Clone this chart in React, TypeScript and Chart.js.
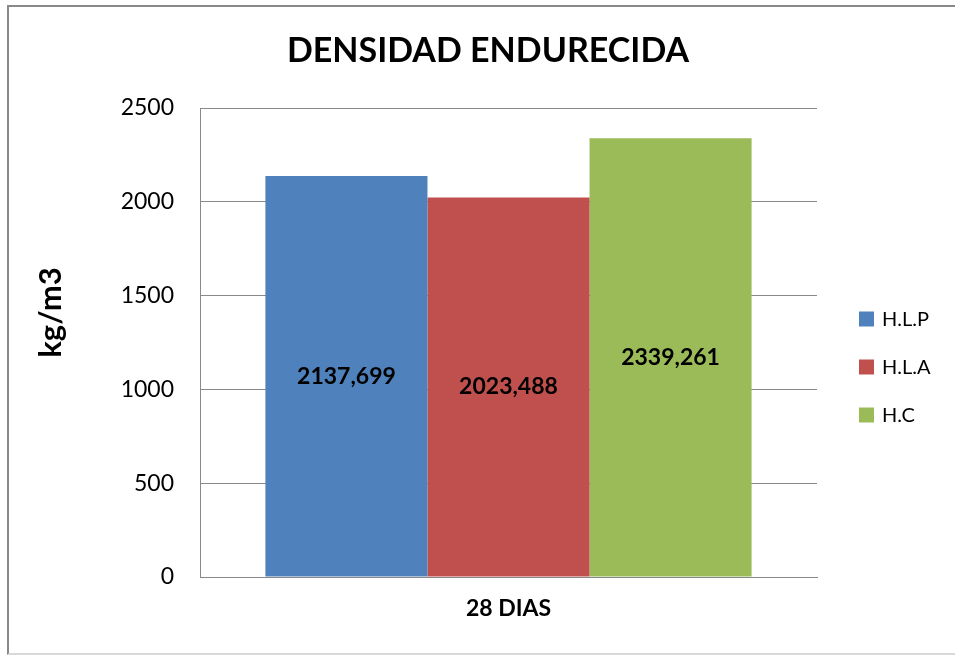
import React, { useEffect, useRef } from "react";
import { Chart, registerables } from "chart.js";

Chart.register(...registerables);

const TITLE = "DENSIDAD ENDURECIDA";
const Y_TITLE = "kg/m3";
const CATEGORIES = ["28 DIAS"];
const SERIES_NAMES = ["H.L.P", "H.L.A", "H.C"];
const HLP_VALUES = [2137.699];
const HLA_VALUES = [2023.488];
const HC_VALUES = [2339.261];
const SERIES_COLORS = ["#4F81BD", "#C0504D", "#9BBB59"];
const Y_MIN = 0;
const Y_MAX = 2500;
const Y_STEP = 500;

const FONT = "Lato, 'Open Sans', sans-serif";

const fmt = (v: number) => v.toFixed(3).replace(".", ",");

const dataLabelPlugin = {
  id: "dataLabels",
  afterDatasetsDraw(chart: any) {
    const ctx = chart.ctx;
    ctx.save();
    ctx.font = `bold 23px ${FONT}`;
    ctx.fillStyle = "#000";
    ctx.textAlign = "center";
    ctx.textBaseline = "middle";
    chart.data.datasets.forEach((ds: any, i: number) => {
      const meta = chart.getDatasetMeta(i);
      meta.data.forEach((bar: any, j: number) => {
        const v = ds.data[j];
        ctx.fillText(fmt(v), bar.x, (bar.y + bar.base) / 2);
      });
    });
    ctx.restore();
  },
};

const customLegendPlugin = {
  id: "customLegend",
  afterDraw(chart: any) {
    const ctx = chart.ctx;
    const area = chart.chartArea;
    const n = chart.data.datasets.length;
    const spacing = 48;
    const centerY = (area.top + area.bottom) / 2 + 24.5;
    const boxX = area.right + 42;
    ctx.save();
    ctx.font = `20px ${FONT}`;
    ctx.textBaseline = "middle";
    ctx.textAlign = "left";
    chart.data.datasets.forEach((ds: any, i: number) => {
      const y = centerY + (i - (n - 1) / 2) * spacing;
      ctx.fillStyle = ds.backgroundColor;
      ctx.fillRect(boxX, y - 7.5, 15, 15);
      ctx.fillStyle = "#000";
      ctx.fillText(ds.label, boxX + 23, y + 1);
    });
    ctx.restore();
  },
};

const yTitlePlugin = {
  id: "yTitle",
  afterDraw(chart: any) {
    const ctx = chart.ctx;
    const area = chart.chartArea;
    ctx.save();
    ctx.font = `bold 31px ${FONT}`;
    ctx.fillStyle = "#000";
    ctx.textAlign = "center";
    ctx.textBaseline = "middle";
    ctx.translate(51, (area.top + area.bottom) / 2 - 30);
    ctx.rotate(-Math.PI / 2);
    ctx.fillText(Y_TITLE, 0, 0);
    ctx.restore();
  },
};

export default function App() {
  const ref = useRef<HTMLCanvasElement | null>(null);

  useEffect(() => {
    if (!ref.current) return;
    const datasets = [HLP_VALUES, HLA_VALUES, HC_VALUES].map((vals, i) => ({
      label: SERIES_NAMES[i],
      data: vals,
      backgroundColor: SERIES_COLORS[i],
      borderWidth: 0,
      barPercentage: 1,
      categoryPercentage: 0.788,
    }));
    const chart = new Chart(ref.current, {
      type: "bar",
      data: { labels: CATEGORIES, datasets },
      options: {
        responsive: false,
        animation: false,
        layout: { padding: { left: 21, right: 0, top: 0, bottom: 0 } },
        plugins: {
          legend: { display: false },
          tooltip: { enabled: false },
          title: {
            display: true,
            text: TITLE,
            color: "#000",
            font: { family: FONT, size: 34, weight: "bold" },
            padding: { top: 31, bottom: 36.2 },
          },
        },
        scales: {
          x: {
            grid: { display: false },
            border: { display: true, color: "#898989", width: 1 },
            ticks: {
              color: "#000",
              font: { family: FONT, size: 23, weight: "bold" },
              padding: 10,
            },
            afterFit: (s: any) => {
              s.height = 78;
            },
          },
          y: {
            min: Y_MIN,
            max: Y_MAX,
            grid: { color: "#898989", lineWidth: 1, drawTicks: false },
            border: { display: true, color: "#898989", width: 1 },
            ticks: {
              stepSize: Y_STEP,
              color: "#000",
              font: { family: FONT, size: 23 },
              padding: 26,
              callback: (v: any) => String(v),
            },
            afterFit: (s: any) => {
              s.width = 179;
            },
          },
          legendSpace: {
            type: "linear",
            position: "right",
            display: true,
            grid: { display: false, drawTicks: false },
            border: { display: false },
            ticks: { display: false },
            afterFit: (s: any) => {
              s.width = 138;
            },
          },
        },
      },
      plugins: [dataLabelPlugin, customLegendPlugin, yTitlePlugin],
    });
    return () => chart.destroy();
  }, []);

  return (
    <div style={{ position: "absolute", left: 0, top: 0, width: 955, height: 655, overflow: "hidden", background: "#fff" }}>
      <div
        style={{
          position: "absolute",
          left: 7,
          top: 5,
          width: 960,
          height: 646,
          borderLeft: "2px solid #898989",
          borderTop: "2px solid #898989",
          borderBottom: "2px solid #d9d9d9",
        }}
      />
      <canvas ref={ref} width={955} height={655} style={{ position: "absolute", left: 0, top: 0 }} />
    </div>
  );
}
